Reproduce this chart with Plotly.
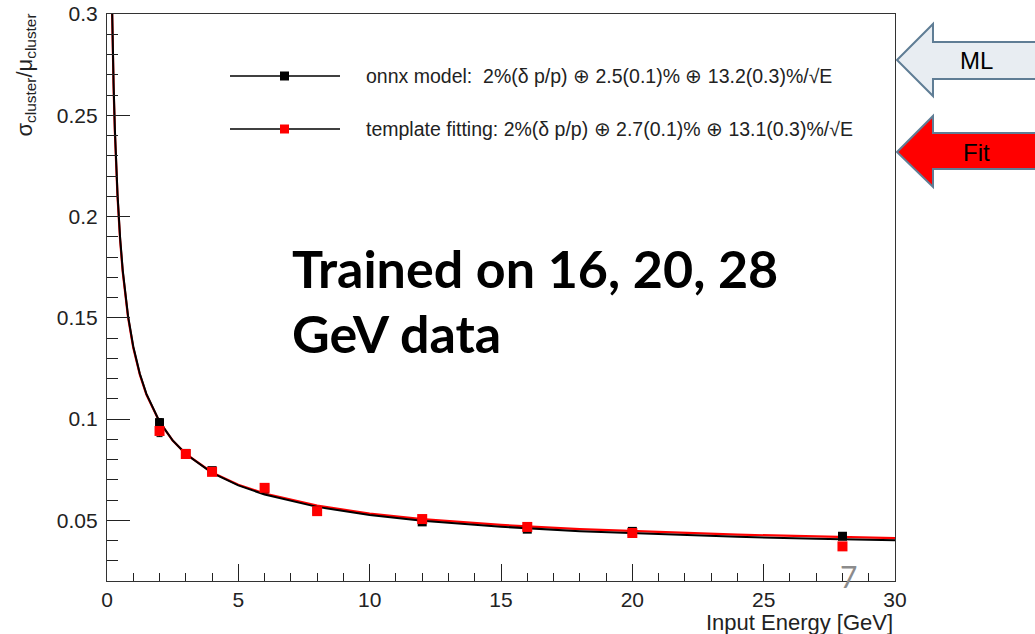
import plotly.graph_objects as go

# ---------------- data ----------------
energy = [2, 3, 4, 6, 8, 12, 16, 20, 28]
onnx_res = [0.0982, 0.0830, 0.0745, 0.0655, 0.0548, 0.0492, 0.0456, 0.0445, 0.0421]
onnx_err = [0.0020, 0.0010, 0.0008, 0.0008, 0.0006, 0.0006, 0.0006, 0.0008, 0.0008]
fit_res = [0.0941, 0.0827, 0.0739, 0.0660, 0.0545, 0.0506, 0.0467, 0.0437, 0.0371]
fit_err = [0.0028, 0.0010, 0.0008, 0.0010, 0.0007, 0.0006, 0.0006, 0.0008, 0.0010]

# fitted resolution curves, sampled along the drawn lines
curve_e = [0.18, 0.2, 0.25, 0.3, 0.4, 0.5, 0.6, 0.8, 1.0, 1.25, 1.5, 2, 2.5, 3, 4, 5, 6, 8,
           10, 12, 15, 18, 21, 24, 27, 30]
curve_onnx = [0.3128, 0.2969, 0.2659, 0.2431, 0.2112, 0.1894, 0.1734, 0.1510, 0.1358, 0.1223,
              0.1124, 0.0987, 0.0894, 0.0827, 0.0734, 0.0672, 0.0627, 0.0566, 0.0526,
              0.0498, 0.0468, 0.0446, 0.0431, 0.0418, 0.0409, 0.0401]
curve_fit = [0.3106, 0.2948, 0.2641, 0.2415, 0.2098, 0.1883, 0.1724, 0.1503, 0.1352, 0.1219,
             0.1121, 0.0985, 0.0894, 0.0828, 0.0736, 0.0675, 0.0632, 0.0572, 0.0533,
             0.0506, 0.0477, 0.0456, 0.0441, 0.0429, 0.0420, 0.0412]

legend_labels = [
    "onnx model:  2%(δ p/p) ⊕ 2.5(0.1)% ⊕ 13.2(0.3)%/√E",
    "template fitting: 2%(δ p/p) ⊕ 2.7(0.1)% ⊕ 13.1(0.3)%/√E",
]
x_title = "Input Energy [GeV]"
y_title = "σ<sub>cluster</sub>/μ<sub>cluster</sub>"
note_lines = ["Trained on 16, 20, 28", "GeV data"]
arrow_labels = ["ML", "Fit"]
slide_number = "7"

# ---------------- layout geometry (pixels) ----------------
W, H = 1035, 634
L, R, T, B = 107, 140, 14, 53
PW, PH = W - L - R, H - T - B


def px(x):
    return (x - L) / PW


def py(y):
    return (H - B - y) / PH


fig = go.Figure()

fig.add_trace(go.Scatter(x=curve_e, y=curve_fit, mode="lines",
                         line=dict(color="#ff0000", width=2.2), showlegend=False,
                         hoverinfo="skip"))
fig.add_trace(go.Scatter(x=curve_e, y=curve_onnx, mode="lines",
                         line=dict(color="#000000", width=2), showlegend=False,
                         hoverinfo="skip"))
fig.add_trace(go.Scatter(x=energy, y=onnx_res, mode="markers",
                         marker=dict(symbol="square", size=9, color="#000000"),
                         error_y=dict(type="data", array=onnx_err, color="#000000",
                                      thickness=1, width=3),
                         showlegend=False))
fig.add_trace(go.Scatter(x=energy, y=fit_res, mode="markers",
                         marker=dict(symbol="square", size=10, color="#ff0000"),
                         error_y=dict(type="data", array=fit_err, color="#000000",
                                      thickness=1, width=3),
                         showlegend=False))

tick_font = dict(family="Liberation Sans, Arial, sans-serif", size=21, color="#222222")

fig.update_xaxes(range=[0, 30], dtick=5, tick0=0, ticks="inside", ticklen=17,
                 tickcolor="#222222", tickwidth=1,
                 minor=dict(dtick=1, ticks="inside", ticklen=8, tickcolor="#222222"),
                 showline=True, linecolor="#333333", linewidth=1.2, mirror=True,
                 showgrid=False, zeroline=False, tickfont=tick_font,
                 ticklabelstandoff=0, automargin=False)
fig.update_yaxes(range=[0.02, 0.3], dtick=0.05, tick0=0, ticks="inside", ticklen=23,
                 tickcolor="#222222", tickwidth=1,
                 minor=dict(dtick=0.01, ticks="inside", ticklen=11, tickcolor="#222222"),
                 showline=True, linecolor="#333333", linewidth=1.2, mirror=True,
                 showgrid=False, zeroline=False, tickfont=tick_font,
                 tickformat="~g", ticklabelstandoff=4, automargin=False)

shapes = []
annotations = []

# legend (drawn by hand, ROOT style)
leg_rows_y = [76, 129]
leg_marker_colors = ["#000000", "#ff0000"]
for yrow, col, lab in zip(leg_rows_y, leg_marker_colors, legend_labels):
    shapes.append(dict(type="line", xref="paper", yref="paper",
                       x0=px(230), x1=px(340), y0=py(yrow), y1=py(yrow),
                       line=dict(color="#000000", width=1.5)))
    shapes.append(dict(type="rect", xref="paper", yref="paper",
                       x0=px(280), x1=px(289), y0=py(yrow - 4.5), y1=py(yrow + 4.5),
                       fillcolor=col, line=dict(width=0)))
    annotations.append(dict(text=lab, xref="paper", yref="paper", x=px(364), y=py(yrow),
                            xanchor="left", yanchor="middle", showarrow=False,
                            font=dict(family="Liberation Sans, Arial, sans-serif",
                                      size=19.5, color="#222222")))

# arrows on the right
arrow_rows = [(60, 24, 42, 79, 96, "#e8edf2"), (152, 116, 133, 169, 187, "#ff0000")]
for (ytip, yht, yst, ysb, yhb, fill), lab in zip(arrow_rows, arrow_labels):
    pts = [(897, ytip), (933, yht), (933, yst), (1045, yst), (1045, ysb),
           (933, ysb), (933, yhb)]
    path = "M " + " L ".join(f"{px(a):.5f},{py(b):.5f}" for a, b in pts) + " Z"
    shapes.append(dict(type="path", xref="paper", yref="paper", path=path,
                       fillcolor=fill, line=dict(color="#5f7d95", width=2)))
    annotations.append(dict(text=lab, xref="paper", yref="paper", x=px(977), y=py(ytip),
                            xanchor="center", yanchor="middle", showarrow=False,
                            font=dict(family="Liberation Sans, Arial, sans-serif",
                                      size=24, color="#000000")))

# big note text
for i, line in enumerate(note_lines):
    annotations.append(dict(text=f"<b>{line}</b>", xref="paper", yref="paper",
                            x=px(290), y=py(268 + 65 * i), xanchor="left",
                            yanchor="middle", showarrow=False,
                            font=dict(family="Lato, sans-serif", size=52, color="#000000")))

# axis titles
annotations.append(dict(text=x_title, xref="paper", yref="paper", x=px(895), y=py(623),
                        xanchor="right", yanchor="middle", showarrow=False,
                        font=dict(family="Liberation Sans, Arial, sans-serif", size=22,
                                  color="#222222")))
annotations.append(dict(text=y_title, xref="paper", yref="paper", x=px(26), y=py(12),
                        xanchor="center", yanchor="top", showarrow=False, textangle=-90,
                        font=dict(family="Liberation Sans, Arial, sans-serif", size=22,
                                  color="#222222")))

# slide number
annotations.append(dict(text=slide_number, xref="paper", yref="paper", x=px(848),
                        y=py(576), xanchor="center", yanchor="middle", showarrow=False,
                        font=dict(family="Lato, sans-serif", size=30, color="#8c8c8c")))

fig.update_layout(width=W, height=H, margin=dict(l=L, r=R, t=T, b=B),
                  paper_bgcolor="white", plot_bgcolor="white",
                  shapes=shapes, annotations=annotations, showlegend=False)

fig.write_html("out.html", config={"displayModeBar": False})
